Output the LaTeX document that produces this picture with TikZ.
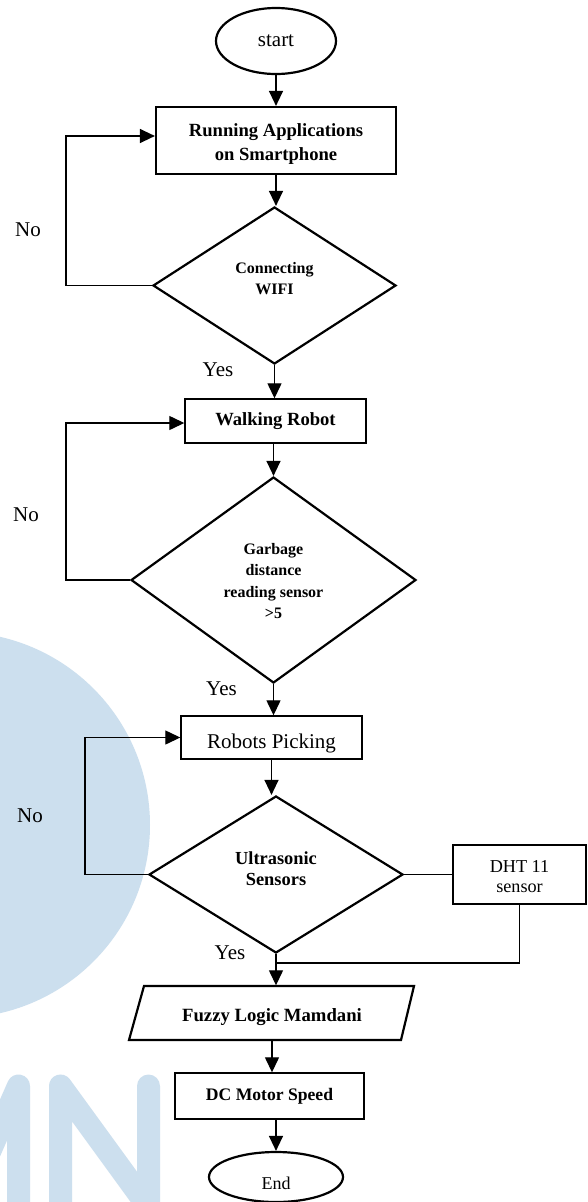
\documentclass[tikz,border=0pt]{standalone}
\usepackage{fontspec}
\setmainfont{Liberation Serif}
\usetikzlibrary{shapes.geometric,arrows.meta}
\definecolor{wm}{RGB}{204,223,238}
\begin{document}
\begin{tikzpicture}[x=1pt,y=-1pt,
  conn/.style={line width=1.3pt},
  arr/.style={line width=1.3pt,-{Triangle[length=15pt,width=14pt]}},
  thickbox/.style={draw,line width=2.2pt,inner sep=0pt},
  thinbox/.style={draw,line width=1.4pt,inner sep=0pt},
  decision/.style={thickbox,diamond},
  terminal/.style={thickbox,ellipse},
  txt/.style={inner sep=0pt,align=center},
  wmstroke/.style={wm,line width=23pt,line cap=round,line join=round},
  lbl/.style={inner sep=0pt,font=\fontsize{21}{24}\selectfont},
]
\fill[white] (0,0) rectangle (587,1202);
\useasboundingbox (0,0) rectangle (587,1202);

% watermark
\begin{scope}
  \clip (0,0) rectangle (587,1202);
  \fill[wm] (-43,825) circle[radius=193pt];
  \draw[wmstroke] (-45,1230) -- (18.5,1086) -- (18.5,1290);
  \draw[wmstroke] (60.5,1290) -- (60.5,1086) -- (148.5,1207) -- (148.5,1086);
\end{scope}

% nodes
\node[terminal,minimum width=120pt,minimum height=66pt,font=\fontsize{21}{24}\selectfont] (start) at (276,41) {start};

\node[thickbox,minimum width=240pt,minimum height=67pt] (b1) at (276,140.5) {};
\node[txt,font=\fontsize{18.6}{24}\selectfont\bfseries] (b1t) at (276,143.8) {Running Applications\\on Smartphone};

\node[decision,minimum width=243pt,minimum height=157pt] (d1) at (274.5,285.5) {};
\node[txt,font=\fontsize{16}{21}\selectfont\bfseries] (d1t) at (274.5,278.5) {Connecting\\WIFI};

\node[thinbox,minimum width=181pt,minimum height=44pt,font=\fontsize{18.6}{24}\selectfont\bfseries] (b2) at (275.5,421) {Walking Robot};

\node[decision,minimum width=285pt,minimum height=206pt] (d2) at (273.5,580) {};
\node[txt,font=\fontsize{16}{21.3}\selectfont\bfseries] (d2t) at (273.5,581) {Garbage\\distance\\reading sensor\\>5};

\node[thinbox,minimum width=181pt,minimum height=43pt] (b3) at (271.5,737.5) {};
\node[txt,font=\fontsize{21}{24}\selectfont] (b3t) at (271.5,743) {Robots Picking};

\node[decision,minimum width=254pt,minimum height=157pt] (d3) at (276,874.5) {};
\node[txt,font=\fontsize{18.4}{21}\selectfont\bfseries] (d3t) at (276,868.5) {Ultrasonic\\Sensors};

\node[thinbox,minimum width=133pt,minimum height=59pt] (dht) at (519.5,874.5) {};
\node[txt,font=\fontsize{18.2}{20}\selectfont] (dhtt) at (519.5,877) {DHT 11\\sensor};

\node[inner sep=0pt,minimum width=270pt,minimum height=55pt] (fuzzy) at (272,1013) {};
\draw[line width=2.2pt] (144,986) -- (414,986) -- (401,1040) -- (129,1040) -- cycle;
\node[txt,font=\fontsize{18.7}{24}\selectfont\bfseries] (fuzzyt) at (272,1017) {Fuzzy Logic Mamdani};

\node[thinbox,minimum width=189pt,minimum height=46pt,font=\fontsize{17.6}{24}\selectfont\bfseries] (dc) at (269.5,1096) {DC Motor Speed};

\node[terminal,minimum width=134pt,minimum height=50pt] (end) at (276,1177) {};
\node[txt,font=\fontsize{18}{24}\selectfont] (endt) at (276,1183) {End};

% labels
\node[lbl] (no1) at (28,230) {No};
\node[lbl] (no2) at (26,515) {No};
\node[lbl] (no3) at (30,816) {No};
\node[lbl] (yes1) at (218,370) {Yes};
\node[lbl] (yes2) at (221.5,689) {Yes};
\node[lbl] (yes3) at (230,953) {Yes};

% connectors
\draw[arr] (start.south) -- (b1.north);
\draw[arr] (b1.south) -- (b1.south |- d1.north);
\draw[arr] (d1.south) -- (d1.south |- b2.north);
\draw[arr] (d2.north |- b2.south) -- (d2.north);
\draw[arr] (d2.south) -- (d2.south |- b3.north);
\draw[arr] (b3.south) -- (b3.south |- d3.north);
\draw[arr] (d3.south) -- (d3.south |- fuzzy.north);
\draw[arr] (fuzzy.south) -- (fuzzy.south |- dc.north);
\draw[arr] (end.north |- dc.south) -- (end.north);

\coordinate (l1) at (66,285.5);
\coordinate (l2) at (66,580);
\coordinate (l3) at (85,874.5);
\draw[arr] (d1.west) -- (l1) |- ([yshift=4.5pt]b1.west);
\draw[arr] (d2.west) -- (l2) |- ([yshift=-2pt]b2.west);
\draw[arr] (d3.west) -- (l3) |- (b3.west);

\coordinate (jn) at (276,963);
\draw[conn] (d3.east) -- (dht.west);
\draw[conn] (dht.south) -- (dht.south |- jn) -- (jn);
\end{tikzpicture}
\end{document}
